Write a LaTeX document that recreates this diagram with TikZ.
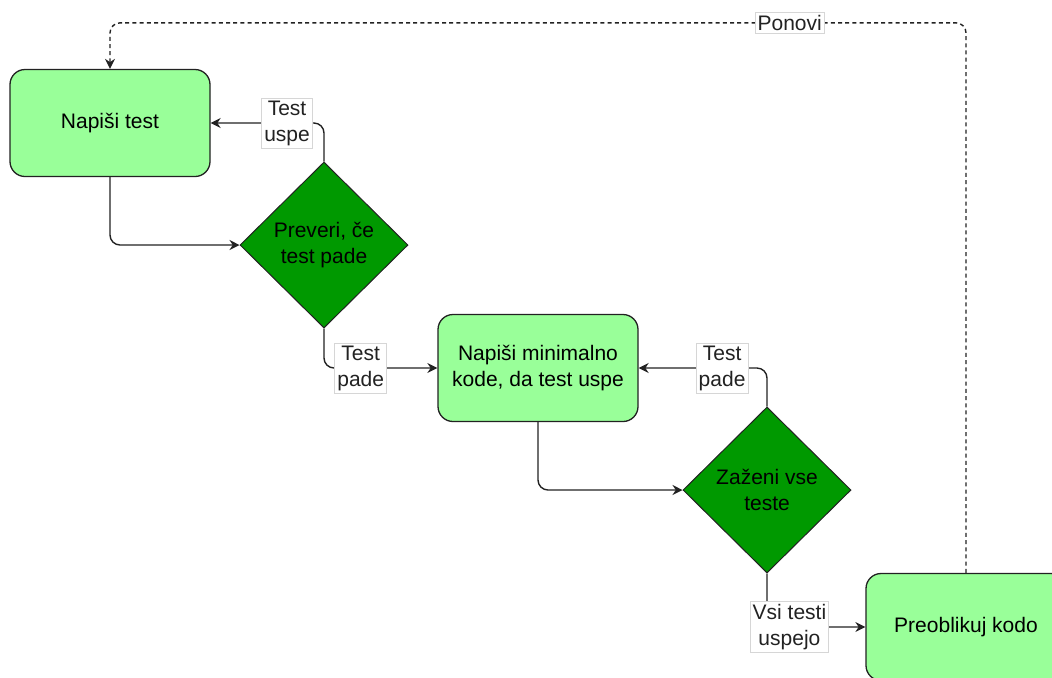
\documentclass[tikz,border=0pt]{standalone}
\usepackage{fontspec}
\setmainfont{Liberation Sans}
\definecolor{lightgreen}{HTML}{99FF99}
\definecolor{darkgreen}{HTML}{009900}
\definecolor{linegray}{HTML}{222222}
\definecolor{lblgray}{HTML}{D6D6D6}
\usetikzlibrary{arrows.meta, shapes.geometric}

\begin{document}
\begin{tikzpicture}[x=0.5pt, y=-0.5pt,
  task/.style={draw=linegray, rounded corners=7.5pt, fill=lightgreen,
    minimum width=100pt, minimum height=53.5pt, align=center,
    font=\fontsize{10.5}{13}\selectfont, line width=0.65pt},
  check/.style={diamond, draw=linegray, fill=darkgreen, minimum width=84pt,
    minimum height=83pt, inner sep=0pt, align=center,
    font=\fontsize{10.5}{13}\selectfont, line width=0.5pt},
  lbl/.style={draw=lblgray, fill=white, sharp corners, solid, inner sep=1.3pt,
    align=center, font=\fontsize{10.5}{13}\selectfont, line width=0.4pt},
  arw/.style={-{Stealth[length=5pt, width=5pt]}, line width=0.7pt,
    linegray, rounded corners=5pt},
  loop/.style={arw, dash pattern=on 2pt off 1.6pt},
]
\useasboundingbox (0,0) rectangle (1052,677);
\clip (0,0) rectangle (1052,677);

\node[task] (write) at (110,123) {Napiši test};
\node[check] (fails) at (324,245) {Preveri, če\\test pade};
\node[task] (code) at (538,368) {Napiši minimalno\\kode, da test uspe};
\node[check] (runall) at (767,490) {Zaženi vse\\teste};
\node[task] (refactor) at (966,627) {Preoblikuj kodo};

\draw[arw] (write.south) |- (fails.west);
\draw[arw] (fails.north) |- node[lbl, pos=0.663] {Test\\uspe} (write.east);
\draw[arw] (fails.south) |- node[lbl, pos=0.662] {Test\\pade} (code.west);
\draw[arw] (code.south) |- (runall.west);
\draw[arw] (runall.north) |- node[lbl, pos=0.675] {Test\\pade} (code.east);
\draw[arw] (runall.south) |- node[lbl, pos=0.614] {Vsi testi\\uspejo} (refactor.west);
\draw[loop] (refactor.north) -- ++(0,-550) -| node[lbl, pos=0.103] {Ponovi} (write.north);
\end{tikzpicture}
\end{document}
